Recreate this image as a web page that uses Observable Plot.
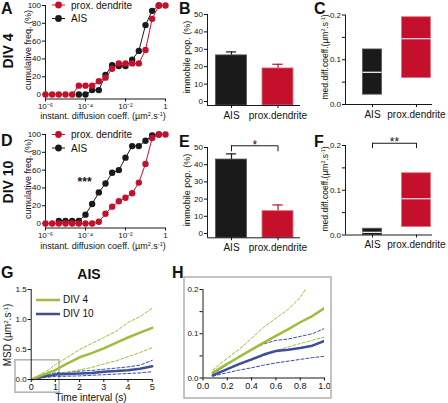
<!DOCTYPE html>
<html><head><meta charset="utf-8">
<script src="https://cdn.jsdelivr.net/npm/d3@7"></script>
<script src="https://cdn.jsdelivr.net/npm/@observablehq/plot@0.6"></script>
<style>
body{margin:0;background:#fff;}
#fig{position:relative;width:448px;height:403px;overflow:hidden;font-family:"Liberation Sans",Arial,sans-serif;color:#111;background:#fff;}
.t{position:absolute;white-space:nowrap;line-height:1;}
sup{font-size:0.62em;vertical-align:0.5em;line-height:0;}
</style></head><body><div id="fig"></div>
<script>
const W = 448, H = 403;
const FONT = '"Liberation Sans", Arial, sans-serif';

// ---------- data ----------
const diffusionBins = [1e-6, 2.15e-6, 4.64e-6, 1e-5, 2.15e-5, 4.64e-5, 1e-4, 2.15e-4, 4.64e-4, 1e-3, 2.15e-3, 4.64e-3, 1e-2, 2.15e-2, 4.64e-2, 0.1, 0.215, 0.464, 1];
const div4Dendrite = [0, 0, 0, 0, 0, 10, 10, 10, 15, 19, 29, 35, 35, 35, 35, 50, 85, 100, 100];
const div4AIS = [null, null, null, null, null, 0, 0, 5, 5, 22, 33, 32, 32, 39, 49, 78, 94, 100, null];
const div10Dendrite = [0, 0, 0, 0, 0, 0, 0, 0, 2, 11, 19, 25, 29, 34, 46, 67, 96, 100, 100];
const div10AIS = [null, null, 3, 3, 3, 3, 10, 22, 35, 45, 57, 60, 74, 87, 87, 93, 99, 100, null];
const cumTicks = [0, 20, 40, 60, 80, 100];
const diffTicks = [1e-6, 1e-4, 1e-2, 1];

const compartments = ["AIS", "prox.dendrite"];
const legendNames = ["prox. dendrite", "AIS"];
const immobileDiv4 = [26.5, 19];
const immobileDiv4Err = [2, 2.4];
const immobileDiv10 = [43, 13];
const immobileDiv10Err = [3.3, 3.6];
const immobileTicks = [0, 10, 20, 30, 40, 50];

const medDiv4Low = [0.022, 0.059];
const medDiv4Median = [0.072, 0.147];
const medDiv4High = [0.123, 0.195];
const medDiv10Low = [0, 0.018];
const medDiv10Median = [0.006, 0.081];
const medDiv10High = [0.014, 0.138];
const medTicks = [0, 0.1, 0.2];

const msdTime = [0.08, 0.2, 0.3, 0.4, 0.5, 0.6, 0.7, 0.8, 0.9, 1.0, 1.5, 2, 2.5, 3, 3.5, 4, 4.5, 5];
const div4Mean  = [0.012, 0.032, 0.048, 0.064, 0.08, 0.095, 0.11, 0.126, 0.14, 0.158, 0.27, 0.37, 0.44, 0.52, 0.61, 0.7, 0.78, 0.86];
const div4Upper = [0.018, 0.045, 0.065, 0.09, 0.115, 0.135, 0.155, 0.182, 0.225, 0.25, 0.37, 0.5, 0.6, 0.7, 0.8, 0.95, 1.05, 1.19];
const div4Lower = [0.008, 0.02, 0.03, 0.04, 0.05, 0.062, 0.07, 0.078, 0.085, 0.093, 0.12, 0.16, 0.2, 0.26, 0.31, 0.38, 0.45, 0.53];
const div10Mean  = [0.006, 0.02, 0.032, 0.042, 0.053, 0.061, 0.064, 0.068, 0.073, 0.084, 0.09, 0.1, 0.11, 0.13, 0.14, 0.155, 0.18, 0.22];
const div10Upper = [0.009, 0.03, 0.05, 0.064, 0.077, 0.085, 0.088, 0.094, 0.1, 0.112, 0.12, 0.14, 0.15, 0.17, 0.19, 0.21, 0.24, 0.32];
const div10Lower = [0.004, 0.012, 0.018, 0.023, 0.029, 0.034, 0.038, 0.042, 0.046, 0.049, 0.055, 0.06, 0.07, 0.08, 0.09, 0.1, 0.11, 0.13];
const msdNames = ["DIV 4", "DIV 10"];
const msdTicksG = [0, 1, 2, 3, 4, 5];
const msdTicksH = [0, 0.2, 0.4, 0.6, 0.8, 1];

// ---------- styles ----------
const RED = "#c5102b", BLACK = "#1a1a1a", GREEN = "#9dbd3c", BLUE = "#3b4f9a";
const fig = document.getElementById("fig");

function base(l, t, r, b, extra) {
  return Object.assign({
    width: W, height: H,
    marginLeft: l, marginTop: t, marginRight: W - r, marginBottom: H - b,
    style: {position: "absolute", left: "0px", top: "0px", background: "transparent",
            fontFamily: FONT, fontSize: "8px", color: "#111", overflow: "visible"}
  }, extra);
}
const SUP = {"-": "\u207B", "0": "\u2070", "1": "\u00B9", "2": "\u00B2", "3": "\u00B3", "4": "\u2074", "5": "\u2075", "6": "\u2076", "7": "\u2077", "8": "\u2078", "9": "\u2079"};
const powTick = d => {
  const e = Math.round(Math.log10(d));
  return e === 0 ? "1" : "10" + String(e).split("").map(c => SUP[c]).join("");
};
const f1 = d3.format(".1f");

// ---------- A / D cumulative ----------
function cumulative(top, dend, ais, stars) {
  const rows = diffusionBins.map((x, i) => ({x, dend: dend[i], ais: ais[i]}));
  const marks = [
    Plot.ruleX([1e-6], {y1: -5, y2: 100, stroke: BLACK}),
    Plot.ruleY([-5], {x1: 1e-6, x2: 1, stroke: BLACK}),
    Plot.axisY({ticks: cumTicks, tickSize: 3, tickPadding: 1.5, label: null}),
    Plot.axisX({ticks: diffTicks, tickFormat: powTick, tickSize: 3, tickPadding: 1.5, label: null}),
    Plot.line(rows, {x: "x", y: "ais", stroke: BLACK, strokeWidth: 1}),
    Plot.dot(rows, {x: "x", y: "ais", fill: BLACK, r: 3.2}),
    Plot.line(rows, {x: "x", y: "dend", stroke: RED, strokeWidth: 1}),
    Plot.dot(rows, {x: "x", y: "dend", fill: RED, r: 3.2})
  ];
  if (stars) marks.push(Plot.text([stars], {x: () => 9e-5, y: () => 46, text: d => d, fontSize: 12, fontWeight: "bold"}));
  return Plot.plot(base(45, top, 165, top + 93.5, {x: {type: "log", domain: [1e-6, 1]}, y: {domain: [-5, 100]}, marks}));
}

// ---------- B / E bars ----------
function bars(top, bottom, yMin, vals, errs, sig) {
  const rows = compartments.map((c, i) => ({i, v: vals[i], e: errs[i]}));
  const xMin = -0.516, xMax = 1.484, hw = 0.333, cap = 0.11;
  const marks = [];
  rows.forEach(d => {
    const col = d.i ? RED : BLACK;
    marks.push(Plot.ruleX([d], {x: "i", y1: "v", y2: q => q.v + q.e, stroke: col, strokeWidth: 1.2}));
    marks.push(Plot.ruleY([d], {y: q => q.v + q.e, x1: q => q.i - cap, x2: q => q.i + cap, stroke: col, strokeWidth: 1.2}));
    marks.push(Plot.rect([d], {x1: q => q.i - hw, x2: q => q.i + hw, y1: yMin, y2: "v", fill: col, stroke: d.i ? "#e07080" : "#555", strokeWidth: 0.8}));
  });
  marks.push(
    Plot.ruleX([xMin], {y1: yMin, y2: 50, stroke: BLACK}),
    Plot.ruleY([yMin], {x1: xMin, x2: xMax, stroke: BLACK}),
    Plot.axisY({ticks: immobileTicks, tickSize: 3, tickPadding: 1.5, label: null}),
    Plot.axisX({ticks: [0, 1], tickFormat: i => compartments[i], tickSize: 3, tickPadding: 3, fontSize: 10, label: null})
  );
  if (sig) {
    marks.push(
      Plot.ruleY([51], {x1: 0, x2: 1, stroke: BLACK}),
      Plot.ruleX([0, 1], {y1: 47.5, y2: 51, stroke: BLACK}),
      Plot.text([sig], {x: () => 0.5, y: () => 51, text: d => d, dy: 3, lineAnchor: "bottom", fontSize: 12})
    );
  }
  return Plot.plot(base(207, top, 300, bottom, {x: {domain: [xMin, xMax]}, y: {domain: [yMin, 50]}, marks}));
}

// ---------- C / F floating boxes ----------
function boxes(top, lo, med, hi, sig) {
  const xMin = -0.614, xMax = 1.364, hws = [0.216, 0.33];
  const marks = [];
  compartments.forEach((c, i) => {
    const d = {i, lo: lo[i], med: med[i], hi: hi[i]};
    marks.push(Plot.rect([d], {x1: q => q.i - hws[q.i], x2: q => q.i + hws[q.i], y1: "lo", y2: "hi",
      fill: i ? RED : BLACK, stroke: i ? "#e07080" : "#555", strokeWidth: 0.8}));
    marks.push(Plot.ruleY([d], {y: "med", x1: q => q.i - hws[q.i], x2: q => q.i + hws[q.i], stroke: i ? "#fbe3e6" : "#fff", strokeWidth: 1.2}));
  });
  marks.push(
    Plot.ruleX([xMin], {y1: 0, y2: 0.2, stroke: BLACK}),
    Plot.ruleY([0], {x1: xMin, x2: xMax, stroke: BLACK}),
    Plot.axisY({ticks: medTicks, tickFormat: f1, tickSize: 3, tickPadding: 1.5, label: null}),
    Plot.axisY({ticks: [0.05, 0.15], tickFormat: () => "", tickSize: 3, label: null}),
    Plot.axisX({ticks: [0, 1], tickFormat: i => compartments[i], tickSize: 3, tickPadding: 3, fontSize: 10, label: null})
  );
  if (sig) {
    marks.push(
      Plot.ruleY([0.205], {x1: 0, x2: 1, stroke: BLACK}),
      Plot.ruleX([0, 1], {y1: 0.193, y2: 0.205, stroke: BLACK}),
      Plot.text([sig], {x: () => 0.5, y: () => 0.205, text: d => d, dy: 3, lineAnchor: "bottom", fontSize: 12})
    );
  }
  return Plot.plot(base(345, top, 432, top + 89.5, {x: {domain: [xMin, xMax]}, y: {domain: [0, 0.2]}, marks}));
}

// ---------- G / H MSD ----------
const msdSeries = [
  {v: div10Upper, c: BLUE, w: 1, dash: "3,2"},
  {v: div10Lower, c: BLUE, w: 1, dash: "3,2"},
  {v: div4Upper, c: GREEN, w: 1, dash: "3,2"},
  {v: div4Lower, c: GREEN, w: 1, dash: "3,2"},
  {v: div10Mean, c: BLUE, w: 2.5, dash: null},
  {v: div4Mean, c: GREEN, w: 2.5, dash: null}
];
function msdLines(maxT, clip) {
  return msdSeries.map(s => Plot.line(
    msdTime.map((t, i) => ({t, v: s.v[i]})).filter(d => d.t <= maxT),
    {x: "t", y: "v", stroke: s.c, strokeWidth: s.w, strokeDasharray: s.dash, clip}));
}
const plotG = Plot.plot(base(30.7, 289, 151.7, 379, {
  x: {domain: [0, 5]}, y: {domain: [0, 1.5]},
  marks: [
    Plot.rect([0], {x1: -0.65, x2: 1.17, y1: -0.22, y2: 0.32, stroke: "#b5b5b5", strokeWidth: 1.6, fill: "none"}),
    ...msdLines(5, false),
    Plot.ruleX([0], {y1: 0, y2: 1.5, stroke: BLACK}),
    Plot.ruleY([0], {x1: 0, x2: 5, stroke: BLACK}),
    Plot.axisY({ticks: [0, 0.5, 1, 1.5], tickFormat: f1, tickSize: 3, tickPadding: 1.5, label: null}),
    Plot.axisX({ticks: msdTicksG, tickFormat: d => String(d), tickSize: 3, tickPadding: 1, fontSize: 9, label: null})
  ]
}));
const plotH = Plot.plot(base(202.5, 289, 324, 377.5, {
  x: {domain: [0, 1]}, y: {domain: [0, 0.2]},
  marks: [
    ...msdLines(1, true),
    Plot.ruleX([0], {y1: 0, y2: 0.2, stroke: BLACK}),
    Plot.ruleY([0], {x1: 0, x2: 1, stroke: BLACK}),
    Plot.axisY({ticks: medTicks, tickFormat: f1, tickSize: 3, tickPadding: 1.5, label: null}),
    Plot.axisY({ticks: [0.05, 0.15], tickFormat: () => "", tickSize: 3, label: null}),
    Plot.axisX({ticks: msdTicksH, tickFormat: f1, tickSize: 3, tickPadding: 2, fontSize: 9, label: null})
  ]
}));

fig.appendChild(cumulative(5, div4Dendrite, div4AIS, null));
fig.appendChild(cumulative(134, div10Dendrite, div10AIS, "***"));
fig.appendChild(bars(14, 105, -2.3, immobileDiv4, immobileDiv4Err, null));
fig.appendChild(bars(147, 237.3, -2.5, immobileDiv10, immobileDiv10Err, "*"));
fig.appendChild(boxes(14.5, medDiv4Low, medDiv4Median, medDiv4High, null));
fig.appendChild(boxes(145, medDiv10Low, medDiv10Median, medDiv10High, "**"));
fig.appendChild(plotG);
fig.appendChild(plotH);

// ---------- legends / decorations ----------
const ov = d3.select(fig).append("svg").attr("width", W).attr("height", H)
  .style("position", "absolute").style("left", "0px").style("top", "0px");
ov.append("rect").attr("x", 184).attr("y", 277).attr("width", 147).attr("height", 121)
  .attr("fill", "none").attr("stroke", "#b5b5b5").attr("stroke-width", 1.6);
function dotSwatch(y, color) {
  ov.append("line").attr("x1", 52).attr("x2", 65).attr("y1", y).attr("y2", y).attr("stroke", color).attr("stroke-width", 1);
  ov.append("circle").attr("cx", 58.5).attr("cy", y).attr("r", 3.4).attr("fill", color);
}
[[5, 18.5], [134.5, 148]].forEach(([y1, y2]) => { dotSwatch(y1, RED); dotSwatch(y2, BLACK); });
ov.append("line").attr("x1", 36).attr("x2", 60).attr("y1", 300).attr("y2", 300).attr("stroke", GREEN).attr("stroke-width", 2.5);
ov.append("line").attr("x1", 36).attr("x2", 60).attr("y1", 314).attr("y2", 314).attr("stroke", BLUE).attr("stroke-width", 2.5);

// ---------- text ----------
function txt(html, x, y, fs, mode, bold) {
  const d = document.createElement("div");
  d.className = "t";
  d.innerHTML = html;
  d.style.fontSize = fs + "px";
  if (bold) d.style.fontWeight = "bold";
  d.style.left = x + "px";
  if (mode === "rot") { d.style.top = y + "px"; d.style.transform = "translate(-50%,-50%) rotate(-90deg)"; }
  else if (mode === "mid") { d.style.top = y + "px"; d.style.transform = "translate(0,-50%)"; }
  else if (mode === "cb") { d.style.top = (y - 0.85 * fs) + "px"; d.style.transform = "translate(-50%,0)"; }
  else { d.style.top = (y - 0.85 * fs) + "px"; }
  fig.appendChild(d);
}
const unit = "(\u00B5m<sup>2</sup>.s<sup>-1</sup>)";
// panel letters
txt("A", 1, 14.5, 16, "bl", true); txt("B", 179, 14.5, 16, "bl", true); txt("C", 314, 15, 16, "bl", true);
txt("D", 1, 147, 16, "bl", true); txt("E", 179, 148, 16, "bl", true); txt("F", 314, 148, 16, "bl", true);
txt("G", 1, 279, 16, "bl", true); txt("H", 172, 279, 16, "bl", true);
txt("DIV 4", 8, 51, 14, "rot", true); txt("DIV 10", 8, 182, 14, "rot", true);
txt("AIS", 89, 279, 14, "cb", true);
// axis titles
txt("cumulative freq. (%)", 28, 50, 9, "rot"); txt("cumulative freq. (%)", 28, 179, 9, "rot");
txt("instant. diffusion coeff. " + unit, 103, 120, 9, "cb"); txt("instant. diffusion coeff. " + unit, 103, 250, 9, "cb");
txt("immobile pop. (%)", 187, 57, 9, "rot"); txt("immobile pop. (%)", 187, 190, 9, "rot");
txt("med.diff.coeff." + unit, 325, 57, 8.5, "rot"); txt("med.diff.coeff." + unit, 325, 189, 8.5, "rot");
txt("MSD " + unit, 8, 335, 10, "rot");
txt("Time interval (s)", 91, 401, 10, "cb");
// legends
txt(legendNames[0], 71, 5.5, 10, "mid"); txt(legendNames[1], 71, 19, 10, "mid");
txt(legendNames[0], 71, 135, 10, "mid"); txt(legendNames[1], 71, 148.5, 10, "mid");
txt(msdNames[0], 63, 300, 10, "mid"); txt(msdNames[1], 63, 314, 10, "mid");
</script></body></html>
